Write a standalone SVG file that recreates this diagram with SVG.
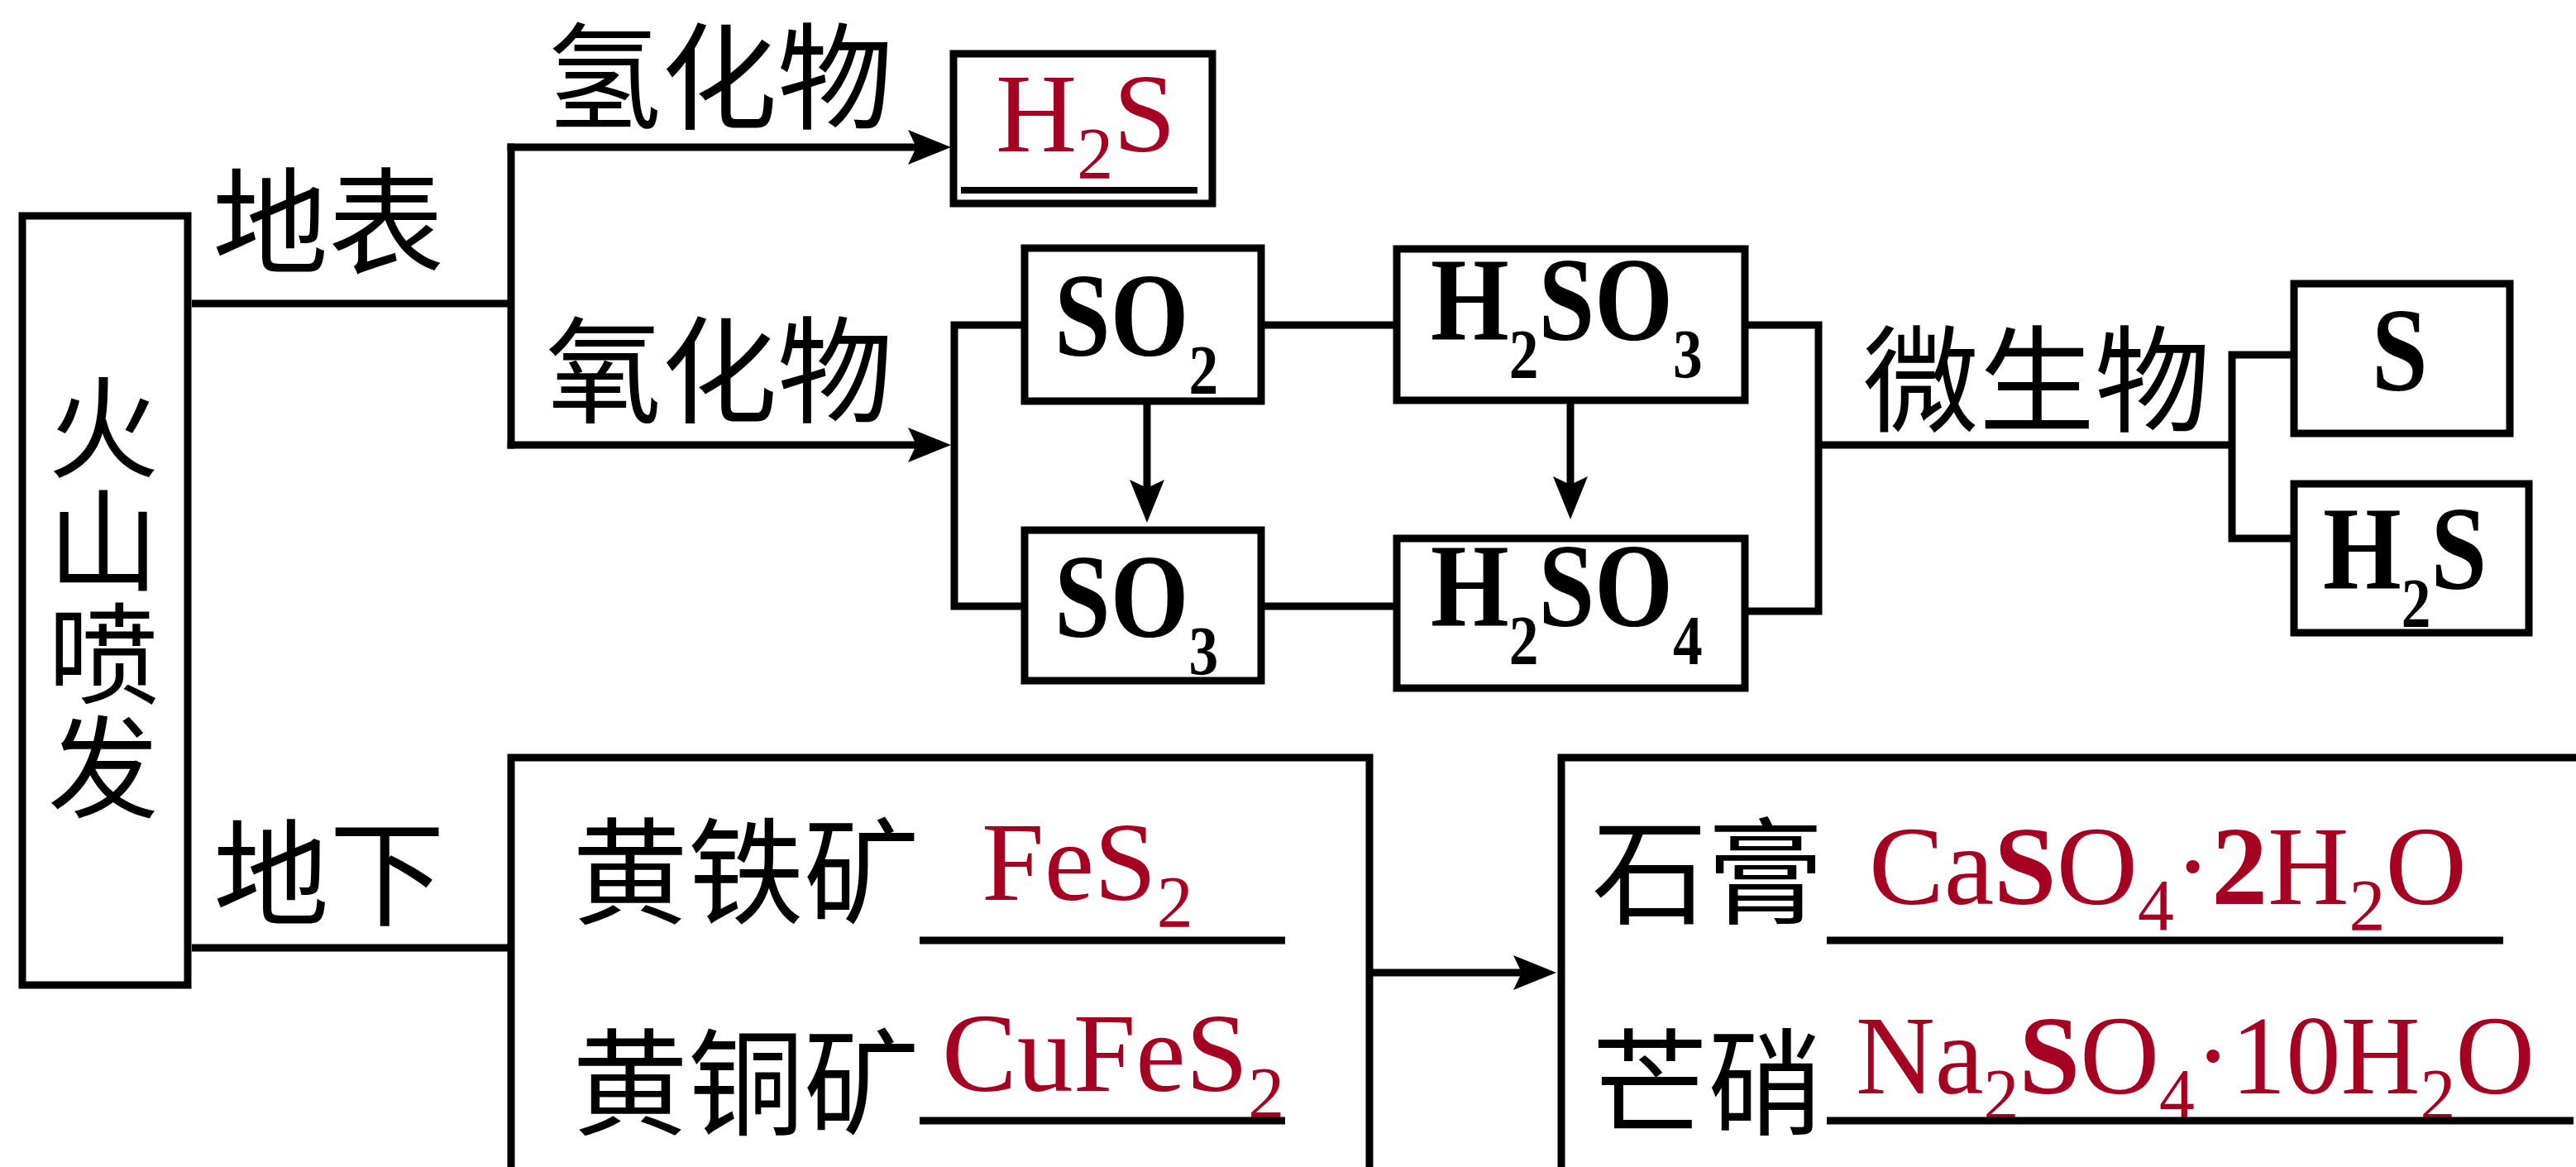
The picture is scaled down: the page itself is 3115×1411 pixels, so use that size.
<svg xmlns="http://www.w3.org/2000/svg" width="3115" height="1411" viewBox="0 0 3115 1411">
<style>
.box{fill:none;stroke:#000;stroke-width:9}
.ln{fill:none;stroke:#000;stroke-width:9}
.ul{fill:none;stroke:#000;stroke-width:9}
.cjk{font-family:"Noto Sans CJK SC",sans-serif;font-size:140px;fill:#000}
.vt{font-size:134px}
.fb{font-family:"Liberation Serif",serif;font-weight:bold;font-size:145px;fill:#000}
.fr{font-family:"Liberation Serif",serif;font-size:136px;fill:#A50021}
.sb{font-size:85px}
.sr{font-size:88px}
.bd{font-weight:bold}
</style>
<defs>
<marker id="ah" markerUnits="userSpaceOnUse" viewBox="-60 -25 65 50" refX="-22" refY="0" markerWidth="65" markerHeight="50" orient="auto">
<path d="M0,0 L-52,-21 L-42,0 L-52,21 Z" fill="#000"/>
</marker>
</defs>
<rect width="3115" height="1411" fill="#fff"/>

<g id="connectors">
<path class="ln" d="M232,367 H618 M618,173.5 V542.5"/>
<path class="ln" d="M613.5,178 H1128" marker-end="url(#ah)"/>
<path class="ln" d="M613.5,538 H1128" marker-end="url(#ah)"/>
<path class="ln" d="M1239,393 H1154 V733 H1239"/>
<path class="ln" d="M1525,393 H1689"/>
<path class="ln" d="M1525,733 H1689"/>
<path class="ln" d="M2110,393 H2199 V739 H2110"/>
<path class="ln" d="M2199,538 H2699 M2699,424.5 V655.5 M2699,429 H2774 M2699,651 H2774"/>
<path class="ln" d="M1387,485 V610" marker-end="url(#ah)"/>
<path class="ln" d="M1899,484 V606" marker-end="url(#ah)"/>
<path class="ln" d="M232,1146 H618"/>
<path class="ln" d="M1656,1176 H1860" marker-end="url(#ah)"/>
</g>

<g id="volcano">
<rect class="box" x="27" y="261" width="200" height="930"/>
<text class="cjk vt" text-anchor="middle"><tspan x="125" y="567">火</tspan><tspan x="125" y="704">山</tspan><tspan x="125" y="841">喷</tspan><tspan x="125" y="978">发</tspan></text>
</g>

<g id="label-surface"><text class="cjk" x="257" y="320">地表</text></g>
<g id="label-hydride"><text class="cjk" x="660" y="145">氢化物</text></g>
<g id="label-oxide"><text class="cjk" x="660" y="500">氧化物</text></g>
<g id="label-microbe"><text class="cjk" x="2253" y="511">微生物</text></g>
<g id="label-underground"><text class="cjk" x="258" y="1108">地下</text></g>

<g id="node-h2s-top">
<rect class="box" x="1153" y="65" width="313" height="181"/>
<path class="ul" d="M1162,230 H1448" style="stroke-width:8"/>
<text class="fr" x="1204" y="183">H<tspan class="sr" dy="32">2</tspan><tspan dy="-32">S</tspan></text>
</g>

<g id="node-so2">
<rect class="box" x="1239" y="300" width="286" height="185"/>
<text class="fb" transform="translate(1275,430) scale(0.84,1)">SO<tspan class="sb" dy="46">2</tspan></text>
</g>

<g id="node-h2so3">
<rect class="box" x="1689" y="301" width="421" height="183"/>
<text class="fb" transform="translate(1730,411) scale(0.84,1)">H<tspan class="sb" dy="46">2</tspan><tspan dy="-46">SO</tspan><tspan class="sb" dy="46">3</tspan></text>
</g>

<g id="node-so3">
<rect class="box" x="1239" y="641" width="286" height="182"/>
<text class="fb" transform="translate(1275,770) scale(0.84,1)">SO<tspan class="sb" dy="46">3</tspan></text>
</g>

<g id="node-h2so4">
<rect class="box" x="1689" y="651" width="421" height="181"/>
<text class="fb" transform="translate(1730,757) scale(0.84,1)">H<tspan class="sb" dy="46">2</tspan><tspan dy="-46">SO</tspan><tspan class="sb" dy="46">4</tspan></text>
</g>

<g id="node-s">
<rect class="box" x="2774" y="343" width="261" height="181"/>
<text class="fb" transform="translate(2868,472) scale(0.84,1)">S</text>
</g>

<g id="node-h2s-bottom">
<rect class="box" x="2774" y="585" width="284" height="180"/>
<text class="fb" transform="translate(2809,712) scale(0.84,1)">H<tspan class="sb" dy="46">2</tspan><tspan dy="-46">S</tspan></text>
</g>

<g id="node-ores">
<rect class="box" x="618" y="916" width="1038" height="600"/>
<text class="cjk" x="692" y="1106">黄铁矿</text>
<text class="fr" x="1187" y="1088">FeS<tspan class="sr" dy="32">2</tspan></text>
<path class="ul" d="M1112,1137 H1554"/>
<text class="cjk" x="692" y="1361">黄铜矿</text>
<text class="fr" x="1139" y="1319">CuFeS<tspan class="sr" dy="32">2</tspan></text>
<path class="ul" d="M1112,1355 H1554"/>
</g>

<g id="node-salts">
<rect class="box" x="1888" y="916" width="1400" height="600"/>
<text class="cjk" x="1925" y="1106">石膏</text>
<text class="fr" x="2260" y="1093">Ca<tspan class="bd">S</tspan>O<tspan class="sr" dy="31">4</tspan><tspan dy="-31">·</tspan><tspan class="bd">2</tspan>H<tspan class="sr" dy="31">2</tspan><tspan dy="-31">O</tspan></text>
<path class="ul" d="M2209,1137 H3027"/>
<text class="cjk" x="1925" y="1361">芒硝</text>
<text class="fr" transform="translate(2244,1322) scale(0.975,1)">Na<tspan class="sr" dy="31">2</tspan><tspan class="bd" dy="-31">S</tspan>O<tspan class="sr" dy="31">4</tspan><tspan dy="-31">·10H</tspan><tspan class="sr" dy="31">2</tspan><tspan dy="-31">O</tspan></text>
<path class="ul" d="M2209,1355 H3112"/>
</g>
</svg>
